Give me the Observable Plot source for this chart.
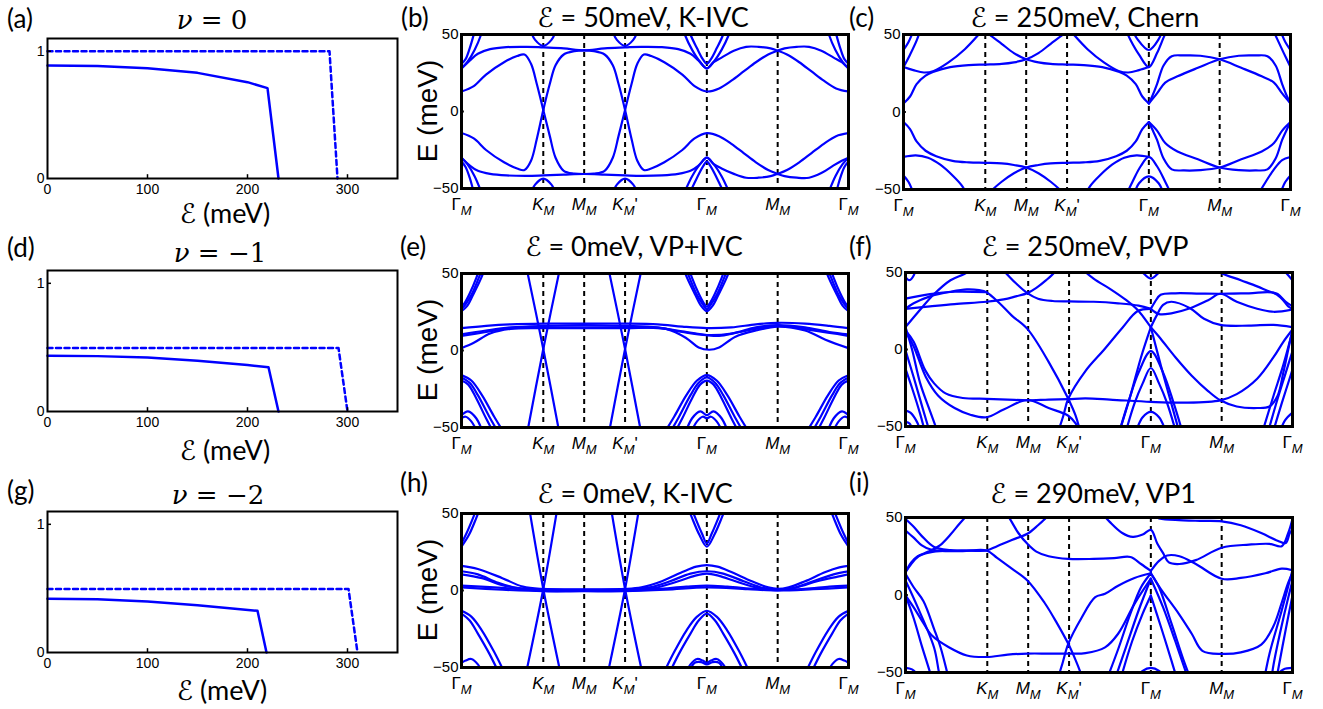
<!DOCTYPE html>
<html><head><meta charset="utf-8">
<script src="https://cdn.jsdelivr.net/npm/d3@7"></script>
<script src="https://cdn.jsdelivr.net/npm/@observablehq/plot@0.6"></script>
<style>
body{margin:0;background:#fff;}
#fig{position:relative;width:1323px;height:709px;overflow:hidden;background:#fff;}
#fig svg{position:absolute;overflow:visible;}
.t{position:absolute;white-space:nowrap;transform:translate(-50%,-50%);color:#000;line-height:1;}
.title{font-family:Lato,"Open Sans",sans-serif;font-size:27px;}
.nu{font-family:"DejaVu Serif",serif;font-size:26px;}
.lab{font-family:Lato,sans-serif;font-size:26px;transform:translate(0,-50%);}
.xl{font-family:Lato,sans-serif;font-size:27px;}
.yl{font-family:"Liberation Sans",Arial,sans-serif;font-size:28px;transform:translate(-50%,-50%) rotate(-90deg);}
.sc{font-family:"DejaVu Sans",sans-serif;}
</style></head><body><div id="fig"></div>
<script>
// ---------- axis definitions ----------
const kTicks = [0, 1, 1.5, 2, 3, 3.866, 4.732];
const kLabels = ["Γ|M", "K|M", "M|M", "K|M|'", "Γ|M", "M|M", "Γ|M"];
const kDashed = [1, 1.5, 2, 3, 3.866];
const eTicks = [-50, 0, 50];
const fieldTicks = [0, 100, 200, 300];
const orderTicks = [0, 1];

// ---------- left column: order parameters vs field ----------
const aSolid = [0,0.888, 50,0.883, 100,0.867, 150,0.83, 200,0.757, 220,0.71, 231,0];
const aDashed = [0,1, 282,1, 290,0];
const dSolid = [0,0.435, 50,0.432, 100,0.422, 150,0.396, 200,0.362, 221,0.345, 231,0];
const dDashed = [0,0.495, 291,0.495, 300,0];
const gSolid = [0,0.42, 50,0.415, 100,0.397, 150,0.369, 190,0.34, 210,0.325, 219,0];
const gDashed = [0,0.496, 301,0.496, 310,0];

// ---------- band structures: each band = [k,E, k,E, ...] ----------
const bandsB = [
 [0,13, 0.15,16.5, 0.3,24, 0.52,32, 0.68,36, 0.77,37, 0.85,31, 0.92,18, 1,1, 1.08,-16, 1.15,-30, 1.25,-38.5, 1.38,-40.3, 1.5,-40.6, 1.62,-40.3, 1.75,-38.5, 1.85,-30, 1.92,-16, 2,1, 2.08,18, 2.15,31, 2.23,37, 2.32,36, 2.48,32, 2.7,24, 2.85,16.5, 3,13, 3.15,15, 3.3,20, 3.45,26, 3.6,32, 3.75,37, 3.866,39.5, 3.95,41, 4.1,42, 4.25,42, 4.4,39.5, 4.55,35, 4.65,32, 4.732,28],
 [0,-14, 0.15,-17.5, 0.3,-25, 0.52,-33, 0.68,-37, 0.77,-38, 0.85,-32, 0.92,-18, 1,1, 1.08,18, 1.15,30, 1.25,37, 1.38,39.2, 1.5,39.7, 1.62,39.2, 1.75,37, 1.85,30, 1.92,18, 2,1, 2.08,-18, 2.15,-32, 2.23,-38, 2.32,-37, 2.48,-33, 2.7,-25, 2.85,-17.5, 3,-14, 3.15,-16, 3.3,-21, 3.45,-27, 3.6,-33, 3.75,-38, 3.866,-40.5, 3.95,-42, 4.1,-43, 4.25,-43, 4.4,-40, 4.55,-35, 4.65,-32, 4.732,-30],
 [0,28, 0.1,33, 0.2,37.5, 0.35,40.5, 0.55,41.8, 0.8,42, 1,41.6, 1.25,41, 1.5,39.7, 1.75,41, 2,41.6, 2.2,42, 2.45,41.8, 2.65,40.5, 2.8,37.5, 2.9,33, 3,28, 3.08,32, 3.18,35, 3.33,39.5, 3.48,42, 3.63,42, 3.78,41, 3.866,39.5, 3.98,37, 4.13,32, 4.28,26, 4.43,20, 4.58,15, 4.732,13],
 [0,-30, 0.1,-35, 0.2,-38.5, 0.35,-40.5, 0.55,-41.5, 0.8,-41.8, 1,-41.5, 1.25,-41, 1.5,-40.6, 1.75,-41, 2,-41.5, 2.2,-41.8, 2.45,-41.5, 2.65,-40.5, 2.8,-38.5, 2.9,-35, 3,-30, 3.08,-34, 3.18,-37, 3.33,-40.5, 3.48,-43, 3.63,-43, 3.78,-42, 3.866,-40.5, 3.98,-38, 4.13,-33, 4.28,-27, 4.43,-21, 4.58,-16, 4.732,-14],
 [0.84,53, 0.9,46.5, 1,42.6, 1.1,46.5, 1.16,53],
 [1.84,53, 1.9,46.5, 2,42.6, 2.1,46.5, 2.16,53],
 [0.84,-54, 0.9,-47.5, 1,-43.6, 1.1,-47.5, 1.16,-54],
 [1.84,-54, 1.9,-47.5, 2,-43.6, 2.1,-47.5, 2.16,-54],
 [0,28, 0.07,32, 0.16,40, 0.24,50, 0.28,58],
 [0,31, 0.05,34, 0.1,41, 0.15,50, 0.19,58],
 [2.68,58, 2.73,50, 2.82,40, 2.92,32, 3,28, 3.08,32, 3.18,40, 3.27,50, 3.32,58],
 [2.76,58, 2.8,50, 2.88,41, 2.95,34, 3,31, 3.05,34, 3.12,41, 3.2,50, 3.24,58],
 [4.732,28, 4.662,32, 4.572,40, 4.492,50, 4.452,58],
 [4.732,31, 4.682,34, 4.632,41, 4.582,50, 4.542,58],
 [0,-30, 0.07,-34, 0.16,-42, 0.24,-52, 0.28,-58],
 [0,-32.5, 0.05,-36, 0.1,-43, 0.15,-52, 0.19,-58],
 [2.68,-58, 2.73,-52, 2.82,-42, 2.92,-34, 3,-30, 3.08,-34, 3.18,-42, 3.27,-52, 3.32,-58],
 [2.76,-58, 2.8,-52, 2.88,-43, 2.95,-36, 3,-32.5, 3.05,-36, 3.12,-43, 3.2,-52, 3.24,-58],
 [4.732,-30, 4.662,-34, 4.572,-42, 4.492,-52, 4.452,-58],
 [4.732,-32.5, 4.682,-36, 4.632,-43, 4.582,-52, 4.542,-58]
];

const bandsC = [
 [0,5.5, 0.08,10, 0.16,18, 0.27,23.5, 0.37,26, 0.57,29, 0.8,30.3, 1,30.6, 1.2,31, 1.35,32, 1.5,34, 1.65,38, 1.8,44, 1.95,50, 2.05,55],
 [0.95,55, 1.05,50, 1.2,44, 1.35,38, 1.5,34, 1.65,32, 1.8,31, 2,30.6, 2.2,30.3, 2.43,29, 2.63,26, 2.73,23.5, 2.84,18, 2.92,10, 3,5.5],
 [0,29, 0.12,27, 0.25,25.5, 0.37,26.5, 0.55,32, 0.75,40.5, 0.92,50, 1,55],
 [2,55, 2.08,50, 2.25,40.5, 2.45,32, 2.63,26.5, 2.75,25.5, 2.88,27, 3,29],
 [3,5.5, 3.1,12, 3.2,19, 3.35,23, 3.6,28.5, 3.866,34, 4.1,36.3, 4.3,36.5, 4.45,36, 4.55,30, 4.63,18, 4.69,10, 4.732,5.5],
 [3,5.5, 3.04,10, 3.1,18, 3.18,30, 3.28,36, 3.43,36.5, 3.63,36.3, 3.866,34, 4.13,28.5, 4.38,23, 4.53,19, 4.63,12, 4.732,5.5],
 [2.7,55, 2.78,46, 2.88,37, 3,29, 3.1,38, 3.18,48, 3.24,55],
 [2.78,55, 2.86,47, 3,40, 3.12,47, 3.18,55],
 [0,29, 0.08,37, 0.16,46, 0.22,55],
 [0,40, 0.06,45, 0.12,52, 0.15,55],
 [4.732,29, 4.65,38, 4.57,47, 4.5,55],
 [4.732,40, 4.67,45, 4.61,52, 4.58,55],
 [0,-6.5, 0.08,-11, 0.16,-19, 0.27,-25, 0.4,-28.5, 0.6,-31.5, 0.8,-32.5, 1,-32.8, 1.2,-33.2, 1.35,-34.2, 1.5,-35.8, 1.65,-39.5, 1.8,-45, 1.95,-52, 2.02,-56],
 [0.98,-56, 1.05,-52, 1.2,-45, 1.35,-39.5, 1.5,-35.8, 1.65,-34.2, 1.8,-33.2, 2,-32.8, 2.2,-32.5, 2.4,-31.5, 2.6,-28.5, 2.73,-25, 2.84,-19, 2.92,-11, 3,-6.5],
 [0,-29, 0.15,-28, 0.3,-29.5, 0.45,-34, 0.6,-41, 0.72,-48, 0.8,-56],
 [2.2,-56, 2.28,-48, 2.4,-41, 2.55,-34, 2.7,-29.5, 2.85,-28, 3,-29],
 [3,-6.5, 3.1,-12, 3.2,-20, 3.35,-25.5, 3.6,-30.5, 3.866,-35.8, 4.1,-37.5, 4.3,-37.7, 4.45,-37, 4.55,-30, 4.63,-18, 4.69,-11, 4.732,-6.5],
 [3,-6.5, 3.04,-11, 3.1,-18, 3.18,-30, 3.28,-37, 3.43,-37.7, 3.63,-37.5, 3.866,-35.8, 4.13,-30.5, 4.38,-25.5, 4.53,-20, 4.63,-12, 4.732,-6.5],
 [2.7,-56, 2.8,-45, 2.9,-35, 3,-29, 3.1,-35, 3.2,-45, 3.3,-56],
 [2.8,-56, 2.88,-46, 3,-41.5, 3.12,-46, 3.2,-56],
 [0,-41, 0.06,-45, 0.12,-52, 0.15,-56],
 [4.732,-29, 4.63,-31, 4.53,-37, 4.43,-45, 4.35,-52, 4.31,-56],
 [4.732,-41, 4.67,-45, 4.61,-52, 4.58,-56]
];

const bandsE = [
 [0.77,60, 1,1, 1.22,-60], [0.78,-60, 1,1, 1.23,60],
 [1.77,60, 2,1, 2.22,-60], [1.78,-60, 2,1, 2.23,60],
 [0,14.5, 0.3,16, 0.6,17, 1,17.5, 1.5,17.5, 2,17.5, 2.4,17, 2.7,15.5, 3,14.5, 3.3,15, 3.6,17, 3.866,18, 4.2,17.5, 4.5,16, 4.732,14.5],
 [0,10.5, 0.3,13, 0.6,15, 1,16, 1.5,16.5, 2,16, 2.4,15, 2.7,12, 3,10, 3.3,11, 3.6,15, 3.866,16.5, 4.2,15, 4.5,12, 4.732,10.5],
 [0,9.5, 0.3,12, 0.6,14.5, 1,15, 1.5,15, 2,15, 2.4,14.5, 2.7,12.5, 3,10, 3.15,9.5, 3.4,12, 3.866,16, 4.3,13, 4.732,9.5],
 [0,1.5, 0.15,5, 0.35,11, 0.6,14, 1,14.5, 1.5,14.5, 2,14.5, 2.5,14, 2.75,8, 2.9,2, 3.03,0.5, 3.15,2, 3.35,9, 3.6,13, 3.866,15.5, 4.2,13, 4.45,7, 4.732,1.5],
 [2.68,58, 2.76,47, 2.86,36, 2.93,29, 3,25.5, 3.07,29, 3.14,36, 3.24,47, 3.32,58],
 [2.71,58, 2.79,47, 2.88,36, 2.95,30, 3,27, 3.05,30, 3.12,36, 3.21,47, 3.29,58],
 [2.75,58, 2.82,47, 2.9,37, 2.96,31, 3,28.5, 3.04,31, 3.1,37, 3.18,47, 3.25,58],
 [0,25.5, 0.07,29, 0.14,36, 0.24,47, 0.32,58],
 [0,27, 0.05,30, 0.12,36, 0.21,47, 0.29,58],
 [0,28.5, 0.04,31, 0.1,37, 0.18,47, 0.25,58],
 [4.732,25.5, 4.662,29, 4.592,36, 4.492,47, 4.412,58],
 [4.732,27, 4.682,30, 4.612,36, 4.522,47, 4.442,58],
 [4.732,28.5, 4.692,31, 4.632,37, 4.552,47, 4.482,58],
 [2.45,-56, 2.6,-43, 2.75,-29, 2.88,-19.5, 3,-16, 3.12,-19.5, 3.25,-29, 3.4,-43, 3.55,-56],
 [2.52,-56, 2.66,-43, 2.8,-29, 2.9,-21, 3,-17.5, 3.1,-21, 3.2,-29, 3.34,-43, 3.48,-56],
 [2.58,-56, 2.7,-44, 2.82,-31, 2.92,-22, 3,-19.5, 3.08,-22, 3.18,-31, 3.3,-44, 3.42,-56],
 [2.72,-56, 2.82,-44, 2.92,-39.5, 3,-42, 3.08,-39.5, 3.18,-44, 3.28,-56],
 [2.78,-56, 2.88,-46, 2.95,-43, 3,-44, 3.05,-43, 3.12,-46, 3.22,-56],
 [0,-16, 0.12,-19.5, 0.25,-29, 0.4,-43, 0.55,-56],
 [0,-17.5, 0.1,-21, 0.2,-29, 0.34,-43, 0.48,-56],
 [0,-19.5, 0.08,-22, 0.18,-31, 0.3,-44, 0.42,-56],
 [0,-42, 0.08,-39.5, 0.18,-44, 0.28,-56],
 [0,-44, 0.05,-43, 0.12,-46, 0.22,-56],
 [4.732,-16, 4.612,-19.5, 4.482,-29, 4.332,-43, 4.182,-56],
 [4.732,-17.5, 4.632,-21, 4.532,-29, 4.392,-43, 4.252,-56],
 [4.732,-19.5, 4.652,-22, 4.552,-31, 4.432,-44, 4.312,-56],
 [4.732,-42, 4.652,-39.5, 4.552,-44, 4.452,-56],
 [4.732,-44, 4.682,-43, 4.612,-46, 4.512,-56]
];

const bandsF = [
 [0,14.5, 0.15,24, 0.35,36, 0.55,45, 0.75,50, 0.85,55],
 [0,26.4, 0.1,30, 0.3,34.5, 0.55,37.5, 0.75,39, 0.9,38.5, 0.99,37.2, 1.15,30, 1.3,22, 1.49,13.4, 1.75,-8, 1.99,-32, 2.08,-43, 2.15,-56],
 [0,26.4, 0.3,28, 0.6,29.5, 0.99,31, 1.2,32.5, 1.35,34.5, 1.49,36.6, 1.6,40, 1.72,45, 1.82,50, 1.9,56],
 [1.1,56, 1.22,50, 1.35,43, 1.49,36.6, 1.62,33, 1.8,31.5, 2,31.2, 2.3,31, 2.6,30, 2.85,28.5, 3,26.4],
 [0,33, 0.3,36, 0.6,37.5, 0.99,37.2],
 [2.1,55, 2.3,46, 2.5,39.4, 2.7,32, 2.85,25, 3,14.5, 3.12,7, 3.3,-5, 3.5,-17, 3.7,-27, 3.85,-33, 4.05,-37, 4.3,-38, 4.45,-37, 4.55,-30, 4.62,-15, 4.68,0, 4.732,13],
 [1.85,-56, 1.93,-43, 1.99,-32, 2.2,-14, 2.43,0, 2.65,14, 2.84,25, 3,26.4],
 [0,12.3, 0.1,5, 0.24,-13.4, 0.35,-22, 0.49,-28.5, 0.7,-31.5, 0.99,-32, 1.25,-32.5, 1.49,-33, 1.75,-32.5, 1.99,-32.2, 2.2,-31.8, 2.5,-32.5, 3,-34, 3.4,-34.5, 3.85,-33, 4.05,-29, 4.3,-19, 4.5,-5, 4.62,5, 4.732,13],
 [0,11.5, 0.1,2, 0.25,-18, 0.4,-30, 0.6,-38, 0.8,-42.5, 0.99,-44, 1.2,-39, 1.49,-32.8, 1.75,-38, 1.99,-43, 2.08,-48, 2.15,-56],
 [0,14.5, 0.08,0, 0.18,-22, 0.3,-40, 0.41,-56],
 [0,-0.6, 0.1,-18, 0.22,-40, 0.31,-56],
 [0,-12.6, 0.08,-25, 0.18,-42, 0.25,-56],
 [0,-39.6, 0.06,-41, 0.14,-47, 0.2,-56],
 [0,-47, 0.05,-48, 0.1,-56],
 [2.6,-56, 2.75,-30, 2.88,-5, 3,14.5],
 [2.6,-56, 2.72,-35, 2.85,-15, 3,-1, 3.15,-15, 3.28,-35, 3.4,-56],
 [2.68,-56, 2.8,-35, 2.9,-22, 3,-12, 3.1,-22, 3.2,-35, 3.32,-56],
 [2.8,-56, 2.9,-44, 3,-40.5, 3.1,-44, 3.2,-56],
 [3,14.5, 3.12,-10, 3.25,-35, 3.36,-56],
 [3,26.4, 3.05,31, 3.12,35.5, 3.3,36.5, 3.6,36.3, 3.85,36.2, 4.2,36.5, 4.5,36.8, 4.6,33, 4.68,28, 4.732,26.4],
 [3,26.4, 3.1,23, 3.25,23.5, 3.48,26.8, 3.7,32, 3.85,36.2, 4.05,31, 4.3,26.5, 4.5,24.5, 4.732,26],
 [3,14.5, 3.07,22, 3.15,29, 3.25,31, 3.48,26.8, 3.65,20, 3.85,16, 4.2,15.5, 4.5,16, 4.732,14.5],
 [3.7,56, 3.85,50, 4.1,45, 4.3,41, 4.46,37.5, 4.55,36, 4.65,31, 4.732,28],
 [2.8,56, 2.9,50, 3,46, 3.1,50, 3.2,56],
 [4.55,56, 4.65,50, 4.732,45],
 [0,47, 0.05,45, 0.1,48, 0.14,56],
 [4.35,-56, 4.5,-30, 4.62,-10, 4.732,12],
 [4.42,-56, 4.55,-32, 4.65,-15, 4.732,-1],
 [4.48,-56, 4.6,-35, 4.732,-13],
 [4.56,-56, 4.64,-46, 4.732,-41]
];

const bandsH = [
 [0.82,56, 1,1, 1.22,-56], [0.78,-56, 1,1, 1.18,56],
 [1.82,56, 2,1, 2.22,-56], [1.78,-56, 2,1, 2.18,56],
 [0,16, 0.2,14, 0.5,8, 0.75,2.5, 1,1, 1.5,0.8, 2,1, 2.2,2, 2.45,6, 2.7,12, 2.87,15.5, 3,16.5, 3.13,15.5, 3.3,12, 3.55,6, 3.75,2, 3.866,1, 4.0,2, 4.2,6, 4.45,12, 4.62,15, 4.732,16],
 [0,12.5, 0.2,10.5, 0.45,5, 0.7,1.5, 1,0.5, 1.5,0.5, 2,0.5, 2.3,2, 2.55,6, 2.8,11, 3,12.5, 3.2,11, 3.45,6, 3.7,1.5, 3.866,0.5, 4.05,1.5, 4.3,6, 4.55,10.5, 4.732,12.5],
 [0,10.5, 0.25,8, 0.5,3.5, 0.75,1, 1,0, 1.5,0, 2,0, 2.35,1.5, 2.65,6, 2.85,9.5, 3,11, 3.15,9.5, 3.35,6, 3.6,2, 3.866,0.2, 4.1,2, 4.35,6, 4.6,9, 4.732,10.5],
 [0,3.2, 0.4,2, 0.8,0.5, 1,-0.3, 1.5,0, 2,-0.3, 2.4,1, 2.75,2.5, 3,3.2, 3.25,2.5, 3.6,1, 3.866,0.3, 4.2,1, 4.5,2.5, 4.732,3.2],
 [0,2, 0.5,0.5, 1,-0.5, 1.5,-0.5, 2,-0.5, 2.5,0.5, 3,2, 3.5,0.8, 3.866,0, 4.3,0.8, 4.732,2],
 [2.74,58, 2.82,47, 2.91,36, 3,28.5, 3.09,36, 3.18,47, 3.26,58],
 [2.78,58, 2.86,47, 2.94,37, 3,30.5, 3.06,37, 3.14,47, 3.22,58],
 [0,28.5, 0.09,36, 0.18,47, 0.26,58], [0,30.5, 0.06,37, 0.14,47, 0.22,58],
 [4.732,28.5, 4.642,36, 4.552,47, 4.472,58], [4.732,30.5, 4.672,37, 4.592,47, 4.512,58],
 [2.45,-56, 2.6,-40, 2.75,-26, 2.88,-17, 3,-13.2, 3.12,-17, 3.25,-26, 3.4,-40, 3.55,-56],
 [2.52,-56, 2.66,-41, 2.8,-28, 2.9,-19.5, 3,-15, 3.1,-19.5, 3.2,-28, 3.34,-41, 3.48,-56],
 [2.72,-56, 2.8,-48, 2.88,-44.5, 2.95,-45.5, 3,-47, 3.05,-45.5, 3.12,-44.5, 3.2,-48, 3.28,-56],
 [2.76,-56, 2.85,-47, 2.93,-46.5, 3,-48, 3.07,-46.5, 3.15,-47, 3.24,-56],
 [0,-13.2, 0.12,-17, 0.25,-26, 0.4,-40, 0.55,-56], [0,-15, 0.1,-19.5, 0.2,-28, 0.34,-41, 0.48,-56],
 [0,-47, 0.05,-45.5, 0.12,-44.5, 0.2,-48, 0.28,-56],
 [4.732,-13.2, 4.612,-17, 4.482,-26, 4.332,-40, 4.182,-56], [4.732,-15, 4.632,-19.5, 4.532,-28, 4.392,-41, 4.252,-56],
 [4.732,-47, 4.682,-45.5, 4.612,-44.5, 4.532,-48, 4.452,-56]
];

const bandsI = [
 [0,49, 0.1,44, 0.2,38, 0.35,31, 0.55,29, 0.8,28.6, 0.99,28.7, 1.12,31.5, 1.3,35.5, 1.49,39.5, 1.62,45, 1.72,50, 1.8,56],
 [0,41.6, 0.1,37, 0.2,32, 0.3,29.5, 0.45,28.5, 0.7,28.3, 0.99,28.7, 1.12,24, 1.3,17, 1.49,9.4, 1.7,-5, 1.85,-18, 1.99,-31.5, 2.08,-42, 2.14,-50, 2.18,-56],
 [0,14.7, 0.07,20, 0.16,25, 0.3,27.5, 0.5,28.5, 0.75,28.7, 0.99,28.7],
 [0,14.7, 0.07,21, 0.15,25, 0.28,28, 0.42,32, 0.55,39, 0.66,46, 0.76,52, 0.82,56],
 [1.2,56, 1.3,47, 1.38,40, 1.49,33, 1.6,28, 1.75,25, 1.99,23.3, 2.3,23.3, 2.55,23.8, 2.75,24.5, 2.88,20, 3,15.5],
 [1.85,-56, 1.92,-44, 1.99,-31.5, 2.15,-15, 2.32,-1.4, 2.44,0.75, 2.6,6, 2.8,11, 3,14],
 [0,-0.3, 0.1,-8, 0.2,-16.5, 0.32,-26, 0.53,-33.7, 0.75,-39, 0.99,-40, 1.25,-38.5, 1.49,-37.8, 1.75,-37.8, 1.99,-37.8, 2.2,-37.5, 2.44,-33.8, 2.6,-25, 2.8,-5.7, 3,10.5],
 [0,13.7, 0.1,5, 0.22,-4, 0.35,-22, 0.43,-34, 0.51,-50, 0.54,-56],
 [0,9.4, 0.15,-8, 0.35,-34, 0.41,-50, 0.44,-56],
 [0,-0.3, 0.1,-15, 0.2,-33, 0.3,-50, 0.33,-56],
 [0,-47, 0.08,-48, 0.16,-52, 0.22,-56],
 [2.45,-56, 2.6,-35, 2.75,-12, 2.88,5, 3,14],
 [2.55,-56, 2.7,-33, 2.85,-10, 3,10.5],
 [2.62,-56, 2.77,-30, 2.9,-12, 3,-0.3],
 [3,14, 3.1,5, 3.25,-18, 3.4,-42, 3.5,-56],
 [3,10.5, 3.15,-8, 3.3,-30, 3.43,-50, 3.47,-56],
 [3,-0.3, 3.12,-20, 3.25,-42, 3.33,-56],
 [2.8,-56, 2.9,-49, 3,-47, 3.1,-49, 3.2,-56],
 [2.35,56, 2.5,47, 2.65,40, 2.78,37.5, 2.9,39, 3,42, 3.08,33, 3.15,27, 3.22,21, 3.35,20, 3.55,22.5, 3.866,30.5, 4.2,32.5, 4.45,33, 4.6,31.5, 4.68,40, 4.732,49],
 [3,15.5, 3.1,22, 3.2,25.5, 3.35,25, 3.55,20, 3.866,10.5, 4.1,11, 4.4,14, 4.6,17, 4.732,16],
 [3.02,56, 3.08,50, 3.3,48.5, 3.6,47.8, 3.866,47.5, 4.1,45, 4.35,40, 4.55,35, 4.65,33.5, 4.7,40, 4.732,42],
 [3,14, 3.12,4, 3.34,-12, 3.5,-25, 3.63,-36, 3.866,-38, 4.1,-37, 4.35,-32, 4.5,-20, 4.6,-5, 4.68,8, 4.732,14],
 [4.732,16, 4.6,-10, 4.45,-38, 4.38,-56],
 [4.732,9.4, 4.62,-15, 4.5,-45, 4.47,-56],
 [4.732,-0.3, 4.65,-22, 4.55,-50, 4.53,-56],
 [4.732,-47, 4.62,-48, 4.52,-53, 4.48,-56]
];

// ---------- helpers ----------
const BLUE = "#0000ff";
function pairs(arr, kx, ky, extra) {
  const out = [];
  for (let i = 0; i < arr.length; i += 2) out.push({[kx]: arr[i], [ky]: arr[i + 1], ...extra});
  return out;
}
function bandRows(bands) {
  return bands.flatMap((b, j) => pairs(b, "k", "E", {band: j}));
}
const fmtE = d => d < 0 ? "\u2212" + Math.abs(d) : String(d);

function bandPlot(bands, frameH) {
  const mL = 60, mR = 15, mT = 12, mB = 35;
  const svg = Plot.plot({
    width: mL + 387 + mR, height: mT + frameH + mB,
    marginLeft: mL, marginRight: mR, marginTop: mT, marginBottom: mB,
    style: {fontFamily: "'Liberation Sans', Arial, sans-serif", fontSize: "16px", color: "black", background: "transparent", overflow: "visible"},
    x: {domain: [0, 4.732], axis: null, label: null},
    y: {domain: [-50, 50], label: null},
    marks: [
      Plot.ruleX(kDashed, {stroke: "black", strokeWidth: 2, strokeDasharray: "5,4"}),
      Plot.line(bandRows(bands), {x: "k", y: "E", z: "band", stroke: BLUE, strokeWidth: 2.2, curve: "catmull-rom", clip: true}),
      Plot.ruleY([0], {x1: 0, x2: 0.035, stroke: "black", strokeWidth: 2}),
      Plot.frame({stroke: "black", strokeWidth: 3}),
      Plot.axisY(eTicks, {tickSize: 0, tickPadding: 3, fontSize: 15, tickFormat: fmtE, label: null}),
      Plot.text(kTicks, {x: d => d, frameAnchor: "bottom", dy: 21, text: (d, i) => kLabels[i], fontSize: 17, ariaDescription: "klabel", fill: "black"})
    ]
  });
  d3.select(svg).selectAll("text").each(function () {
    const t = d3.select(this);
    const s = t.text();
    if (s.indexOf("|") < 0) return;
    const parts = s.split("|");
    t.text(null);
    t.append("tspan").attr("font-style", parts[0] === "Γ" ? "normal" : "italic").text(parts[0]);
    t.append("tspan").attr("font-size", 13).attr("font-style", "italic").attr("dy", 5).text(parts[1]);
    if (parts[2]) t.append("tspan").attr("dy", -5).text(parts[2]);
  });
  return {svg, mL, mT};
}

function orderPlot(solid, dashed, frameH) {
  const mL = 30, mR = 10, mT = 8, mB = 25;
  const svg = Plot.plot({
    width: mL + 350 + mR, height: mT + frameH + mB,
    marginLeft: mL, marginRight: mR, marginTop: mT, marginBottom: mB,
    style: {fontFamily: "'Liberation Sans', Arial, sans-serif", fontSize: "14px", color: "black", background: "transparent", overflow: "visible"},
    x: {domain: [0, 350], label: null},
    y: {domain: [0, 1.1], label: null},
    marks: [
      Plot.line(pairs(dashed, "x", "y"), {x: "x", y: "y", stroke: BLUE, strokeWidth: 2.5, strokeDasharray: "5,3.5"}),
      Plot.line(pairs(solid, "x", "y"), {x: "x", y: "y", stroke: BLUE, strokeWidth: 2.5}),
      Plot.ruleX(fieldTicks.slice(1), {y1: 0, y2: 0.03, stroke: "black", strokeWidth: 1.5}),
      Plot.ruleY([1], {x1: 0, x2: 4, stroke: "black", strokeWidth: 1.5}),
      Plot.frame({stroke: "black", strokeWidth: 2}),
      Plot.axisX(fieldTicks, {tickSize: 0, tickPadding: 6, fontSize: 14, tickFormat: d => String(d), label: null}),
      Plot.axisY(orderTicks, {tickSize: 0, tickPadding: 3, fontSize: 14, tickFormat: d => String(d), label: null})
    ]
  });
  return {svg, mL, mT};
}

const fig = document.getElementById("fig");
function place(p, frameLeft, frameTop) {
  p.svg.style.left = (frameLeft - p.mL) + "px";
  p.svg.style.top = (frameTop - p.mT) + "px";
  fig.appendChild(p.svg);
}
function label(cls, x, y, html) {
  const d = document.createElement("div");
  d.className = "t " + cls;
  d.style.left = x + "px"; d.style.top = y + "px";
  d.innerHTML = html;
  fig.appendChild(d);
}

// left column
place(orderPlot(aSolid, aDashed, 140), 47, 38);
place(orderPlot(dSolid, dDashed, 141), 47, 270);
place(orderPlot(gSolid, gDashed, 141), 47, 511);
// band panels
place(bandPlot(bandsB, 154), 461, 34);
place(bandPlot(bandsC, 155), 903, 34);
place(bandPlot(bandsE, 154), 461, 273);
place(bandPlot(bandsF, 154), 905, 272);
place(bandPlot(bandsH, 154), 461, 513);
place(bandPlot(bandsI, 155), 905, 517);

const E = '<span class="sc">ℰ</span>';
// titles
label("nu", 212, 20, "<i>ν</i> = 0");
label("nu", 220, 253, "<i>ν</i> = \u22121");
label("nu", 218, 495, "<i>ν</i> = \u22122");
label("title", 643, 17, E + " = 50meV, K-IVC");
label("title", 1085, 17, E + " = 250meV, Chern");
label("title", 634, 246, E + " = 0meV, VP+IVC");
label("title", 1085, 246, E + " = 250meV, PVP");
label("title", 635, 493, E + " = 0meV, K-IVC");
label("title", 1093, 493, E + " = 290meV, VP1");
// panel letters
label("lab", 7, 18, "(a)"); label("lab", 401, 17, "(b)"); label("lab", 849, 17, "(c)");
label("lab", 7, 247, "(d)"); label("lab", 400, 246, "(e)"); label("lab", 849, 246, "(f)");
label("lab", 7, 490, "(g)"); label("lab", 400, 482, "(h)"); label("lab", 849, 482, "(i)");
// axis labels
label("xl", 225, 213, E + " (meV)");
label("xl", 225, 450, E + " (meV)");
label("xl", 222, 690, E + " (meV)");
label("yl", 428, 111, "E (meV)");
label("yl", 428, 350, "E (meV)");
label("yl", 428, 590, "E (meV)");
</script></body></html>
